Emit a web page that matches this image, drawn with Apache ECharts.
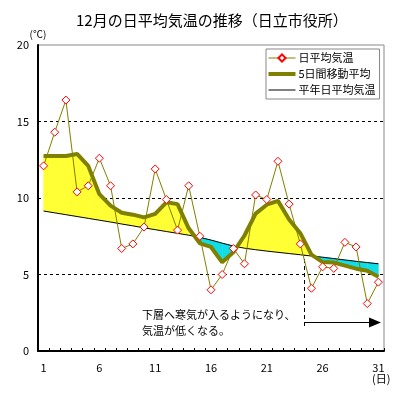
<!DOCTYPE html>
<html>
<head>
<meta charset="utf-8">
<script src="https://cdn.jsdelivr.net/npm/echarts@6/dist/echarts.min.js"></script>
<style>
  html, body { margin: 0; padding: 0; background: #fff; }
  #main { width: 399px; height: 399px; }
</style>
</head>
<body>
<div id="main"></div>
<script>
var days = ['1','2','3','4','5','6','7','8','9','10','11','12','13','14','15','16',
            '17','18','19','20','21','22','23','24','25','26','27','28','29','30','31']
// 日平均気温
var daily = [12.1, 14.3, 16.4, 10.4, 10.8, 12.6, 10.8, 6.7, 7.0, 8.1, 11.9, 9.9, 7.9, 10.8, 7.5, 4.0,
             5.0, 6.7, 5.7, 10.2, 9.9, 12.4, 9.6, 7.0, 4.1, 5.5, 5.4, 7.1, 6.8, 3.1, 4.5]
// 5日間移動平均
var moving = [12.75, 12.75, 12.75, 12.88, 12.1, 10.25, 9.5, 9.04, 8.91, 8.73, 8.96, 9.72, 9.6, 8.02, 7.04, 6.8,
              5.8, 6.45, 7.55, 8.98, 9.56, 9.81, 8.6, 7.7, 6.3, 5.81, 5.78, 5.58, 5.38, 5.25, 4.85]
// 平年日平均気温
var normal = [9.15, 9.03, 8.91, 8.79, 8.67, 8.55, 8.43, 8.3, 8.18, 8.05, 7.93, 7.81, 7.69, 7.57, 7.43, 7.25,
              7.05, 6.86, 6.72, 6.62, 6.53, 6.45, 6.37, 6.29, 6.21, 6.13, 6.04, 5.95, 5.86, 5.78, 5.7]

var font = "'Noto Sans CJK JP', sans-serif"

// 移動平均と平年値の間を塗る区間データ
var bands = []
for (var i = 0; i < days.length - 1; i++) {
    bands.push([i, moving[i], moving[i + 1], normal[i], normal[i + 1]])
}

function poly(points, color) {
    return {
        type: 'polygon',
        shape: { points: points },
        style: { fill: color, stroke: color, lineWidth: 0.5 }
    }
}

function renderBand(params, api) {
    var i = api.value(0)
    var a0 = api.coord([i, api.value(1)])
    var a1 = api.coord([i + 1, api.value(2)])
    var b0 = api.coord([i, api.value(3)])
    var b1 = api.coord([i + 1, api.value(4)])
    var d0 = api.value(1) - api.value(3)
    var d1 = api.value(2) - api.value(4)
    var up = '#ffff33', down = '#11dde8'
    var children = []
    if (d0 >= 0 && d1 >= 0) {
        children.push(poly([a0, a1, b1, b0], up))
    } else if (d0 <= 0 && d1 <= 0) {
        children.push(poly([a0, a1, b1, b0], down))
    } else {
        // 交差点で二つに分ける
        var t = d0 / (d0 - d1)
        var p = [a0[0] + t * (a1[0] - a0[0]), a0[1] + t * (a1[1] - a0[1])]
        children.push(poly([a0, p, b0], d0 > 0 ? up : down))
        children.push(poly([p, a1, b1], d1 > 0 ? up : down))
    }
    return { type: 'group', children: children }
}

var chart = echarts.init(document.getElementById('main'))

var option = {
    animation: false,
    backgroundColor: '#fff',
    textStyle: { fontFamily: font },
    title: {
        text: '12月の日平均気温の推移（日立市役所）',
        left: 71,
        top: 8,
        textStyle: { fontSize: 15, fontWeight: 'normal', color: '#000', fontFamily: font }
    },
    legend: {
        orient: 'vertical',
        left: 266,
        top: 49,
        padding: [3, 4, 3, 2],
        itemWidth: 27,
        itemHeight: 9,
        itemGap: 4,
        borderColor: '#888',
        borderWidth: 1,
        backgroundColor: '#fff',
        textStyle: { fontSize: 11, lineHeight: 12, color: '#000', fontFamily: font, padding: [0, 0, 0, -2] },
        data: [
            { name: '日平均気温', lineStyle: { width: 1 } },
            { name: '5日間移動平均', icon: 'path://M0,0L27,0L27,4L0,4Z' },
            { name: '平年日平均気温', icon: 'path://M0,0L27,0L27,1L0,1Z' }
        ]
    },
    grid: {
        left: 38,
        right: 15,
        top: 45,
        bottom: 48,
        show: true,
        borderColor: '#888',
        borderWidth: 1
    },
    xAxis: {
        type: 'category',
        data: days,
        boundaryGap: true,
        axisLine: { lineStyle: { color: '#000', width: 2 } },
        axisTick: { show: true, inside: true, length: 3, interval: 0, lineStyle: { color: '#000' } },
        axisLabel: { interval: 4, color: '#000', fontSize: 11, margin: 11, fontFamily: font },
        splitLine: { show: false }
    },
    yAxis: {
        type: 'value',
        min: 0,
        max: 20,
        interval: 5,
        name: '(℃)',
        nameLocation: 'end',
        nameGap: 4,
        nameTextStyle: { fontSize: 10, color: '#000', align: 'center', fontFamily: font },
        axisLine: { show: true, lineStyle: { color: '#000', width: 2 } },
        axisTick: { show: false },
        axisLabel: { color: '#000', fontSize: 11, margin: 9, fontFamily: font },
        splitLine: {
            show: true,
            lineStyle: { color: ['transparent', '#000', '#000', '#000', 'transparent'], type: [3, 3], width: 1 }
        }
    },
    graphic: [
        {
            type: 'text',
            left: 142,
            top: 307,
            style: {
                text: '下層へ寒気が入るようになり、\n気温が低くなる。',
                fill: '#000',
                font: '11px ' + font,
                lineHeight: 16
            }
        },
        {
            type: 'line',
            shape: { x1: 304.5, y1: 245, x2: 304.5, y2: 327 },
            style: { stroke: '#000', lineWidth: 1, lineDash: [4, 3] }
        },
        {
            type: 'line',
            shape: { x1: 304.5, y1: 322.5, x2: 371, y2: 322.5 },
            style: { stroke: '#000', lineWidth: 1 }
        },
        {
            type: 'polygon',
            shape: { points: [[369, 317.5], [381, 322.5], [369, 327.5]] },
            style: { fill: '#000' }
        },
        {
            type: 'text',
            left: 372,
            top: 373,
            style: { text: '(日)', fill: '#000', font: '11px ' + font }
        }
    ],
    series: [
        {
            type: 'custom',
            name: 'band',
            renderItem: renderBand,
            data: bands,
            encode: { x: 0, y: 1 },
            z: 1,
            silent: true
        },
        {
            name: '平年日平均気温',
            type: 'line',
            data: normal,
            symbol: 'none',
            lineStyle: { color: '#000', width: 1 },
            itemStyle: { color: '#000' },
            z: 3
        },
        {
            name: '5日間移動平均',
            type: 'line',
            data: moving,
            symbol: 'none',
            lineStyle: { color: '#808000', width: 4 },
            itemStyle: { color: '#808000' },
            z: 4
        },
        {
            name: '日平均気温',
            type: 'line',
            data: daily,
            symbol: 'diamond',
            symbolSize: 8,
            showAllSymbol: true,
            lineStyle: { color: '#808000', width: 1 },
            itemStyle: { color: '#fff', borderColor: '#ff0000', borderWidth: 1 },
            z: 5
        }
    ]
}

chart.setOption(option)
</script>
</body>
</html>
